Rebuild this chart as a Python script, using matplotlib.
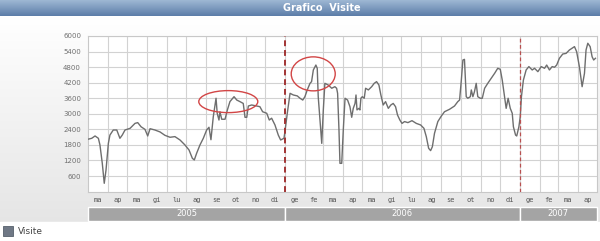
import matplotlib
matplotlib.use('Agg')
import matplotlib.pyplot as plt
from matplotlib.patches import Ellipse, Rectangle
import numpy as np
import pandas as pd

# Visite giornaliere (mesi dal 1 marzo 2005)
mesi = [0.00, 0.19, 0.36, 0.53, 0.61, 0.73, 0.83, 0.92, 1.04, 1.12,
        1.29, 1.47, 1.63, 1.75, 1.89, 2.15, 2.40, 2.54, 2.71, 2.91,
        3.05, 3.17, 3.42, 3.68, 3.93, 4.19, 4.44, 4.70, 4.95, 5.16,
        5.33, 5.43, 5.55, 5.72, 5.89, 6.06, 6.18, 6.28, 6.40, 6.54,
        6.60, 6.69, 6.74, 6.83, 7.00, 7.12, 7.25, 7.46, 7.60, 7.76,
        7.93, 8.02, 8.11, 8.19, 8.36, 8.62, 8.78, 8.92, 9.13, 9.26,
        9.38, 9.55, 9.72, 9.84, 10.01, 10.06, 10.18, 10.32, 10.49, 10.69,
        10.83, 10.97, 11.08, 11.20, 11.34, 11.42, 11.51, 11.64, 11.71, 11.76,
        11.85, 11.94, 12.02, 12.10, 12.27, 12.45, 12.61, 12.70, 12.75, 12.82,
        12.87, 12.96, 13.04, 13.13, 13.26, 13.38, 13.47, 13.55, 13.64, 13.69,
        13.74, 13.84, 13.89, 13.94, 14.01, 14.11, 14.18, 14.32, 14.49, 14.62,
        14.74, 14.86, 14.96, 15.08, 15.20, 15.34, 15.47, 15.59, 15.71, 15.81,
        15.93, 16.04, 16.17, 16.34, 16.55, 16.77, 16.99, 17.16, 17.28, 17.40,
        17.50, 17.59, 17.70, 17.87, 18.05, 18.21, 18.47, 18.72, 18.89, 18.98,
        19.07, 19.15, 19.23, 19.32, 19.40, 19.53, 19.58, 19.66, 19.74, 19.83,
        19.91, 20.04, 20.14, 20.26, 20.42, 20.60, 20.77, 20.93, 21.06, 21.16,
        21.28, 21.36, 21.46, 21.57, 21.67, 21.73, 21.84, 21.90, 22.01, 22.08,
        22.14, 22.24, 22.38, 22.52, 22.69, 22.81, 22.98, 23.15, 23.32, 23.43,
        23.57, 23.71, 23.83, 23.94, 24.08, 24.25, 24.42, 24.59, 24.85, 24.96,
        25.10, 25.24, 25.36, 25.44, 25.53, 25.65, 25.75, 25.83, 25.92]
visite = [2020, 2055, 2145, 2055, 1800, 1090, 320, 830, 1860, 2180,
          2375, 2375, 2055, 2180, 2375, 2440, 2630, 2660, 2500, 2400,
          2145, 2425, 2375, 2300, 2170, 2095, 2120, 1990, 1800, 1605,
          1285, 1220, 1480, 1800, 2055, 2375, 2480, 2000, 2890, 3600,
          3020, 2760, 3080, 2790, 2790, 3150, 3470, 3660, 3530, 3470,
          3400, 2865, 2865, 3300, 3340, 3300, 3275, 3080, 3020, 2760,
          2830, 2570, 2180, 1990, 2055, 2310, 3020, 3790, 3725, 3690,
          3600, 3530, 3660, 3920, 4175, 4240, 4690, 4880, 4755, 3660,
          2760, 1860, 3150, 4175, 4110, 3985, 4045, 3985, 3790, 2375,
          1090, 1090, 2375, 3600, 3530, 3275, 2865, 3210, 3400, 3725,
          3150, 3210, 3150, 3600, 3660, 3600, 3985, 3920, 4045, 4175,
          4240, 4110, 3725, 3340, 3470, 3210, 3340, 3400, 3275, 2955,
          2760, 2630, 2700, 2660, 2735, 2630, 2570, 2440, 2120, 1670,
          1580, 1730, 2250, 2700, 2915, 3080, 3175, 3300, 3470, 3530,
          4300, 5075, 5100, 3660, 3600, 3660, 3920, 3660, 3850, 4175,
          3660, 3600, 3600, 3985, 4175, 4370, 4560, 4755, 4715, 4300,
          3660, 3210, 3600, 3210, 3020, 2500, 2180, 2145, 2500, 2890,
          3660, 4300, 4690, 4820, 4690, 4755, 4625, 4820, 4755, 4880,
          4690, 4820, 4795, 4880, 5140, 5305, 5330, 5460, 5590, 5395,
          4820, 4045, 4560, 5460, 5720, 5590, 5200, 5075, 5140]

mesi_etichette = ['ma', 'ap', 'ma', 'gi', 'lu', 'ag', 'se', 'ot', 'no', 'di',
                  'ge', 'fe', 'ma', 'ap', 'ma', 'gi', 'lu', 'ag', 'se', 'ot', 'no', 'di',
                  'ge', 'fe', 'ma', 'ap']
anni = ['2005', '2006', '2007']
y_ticks = [600, 1200, 1800, 2400, 3000, 3600, 4200, 4800, 5400, 6000]

W, H = 600, 241
inizio = pd.Timestamp('2005-03-01')
confini = pd.date_range('2005-03-01', '2007-05-01', freq='MS')
giorni_confini = np.array([(d - inizio).days for d in confini])
totale = giorni_confini[-1]
giorni = np.array(mesi) * totale / 26.0

fig = plt.figure(figsize=(W / 100, H / 100), dpi=100)

# sfondo sfumato
bg = fig.add_axes([0, 0, 1, 1])
grad = np.linspace(1.0, 0.9, 100).reshape(-1, 1)
bg.imshow(np.dstack([grad, grad, grad]), aspect='auto',
          extent=[0, 1, 1 - 222 / H, 1 - 16 / H], transform=bg.transAxes)
bg.add_patch(Rectangle((0, 0), 1, 1 - 222 / H, color='white', transform=bg.transAxes))
bg.set_xlim(0, 1)
bg.set_ylim(0, 1)
bg.axis('off')

# barra del titolo
tb = fig.add_axes([0, 1 - 16 / H, 1, 16 / H])
c1 = np.array([0.62, 0.72, 0.83])
c2 = np.array([0.36, 0.49, 0.66])
t = np.linspace(0, 1, 50).reshape(-1, 1, 1)
tb.imshow(c1 * (1 - t) + c2 * t, aspect='auto', extent=[0, 1, 0, 1])
tb.set_xlim(0, 1)
tb.set_ylim(0, 1)
tb.axis('off')
tb.text(322 / W, 0.5, 'Grafico  Visite', color='white', fontsize=7,
        fontweight='bold', ha='center', va='center')

# grafico principale
ax = fig.add_axes([88 / W, 1 - 191.6 / H, 509 / W, 155.6 / H])
ax.set_facecolor('white')
ax.set_xlim(0, totale)
ax.set_ylim(0, 6000)
for g in giorni_confini[1:-1]:
    ax.axvline(g, color='#d2d2d2', lw=0.8, zorder=1)
for v in y_ticks:
    ax.axhline(v, color='#d2d2d2', lw=0.8, zorder=1)
for s in ax.spines.values():
    s.set_color('#c8c8c8')
    s.set_linewidth(0.8)

ax.plot(giorni, visite, color='#6e6e6e', lw=1.0, zorder=3)

# separatori anno
ax.axvline(giorni_confini[10], color='#a23434', lw=1.4, ls=(0, (3, 2)), zorder=4)
ax.axvline(giorni_confini[22], color='#b85050', lw=0.9, ls=(0, (3, 2)), zorder=4)

# cerchi rossi
px_giorno = 509 / totale
px_val = 155.6 / 6000
ax.add_patch(Ellipse((218, 3470), 59 / px_giorno, 22 / px_val,
                     fill=False, ec='#d24646', lw=1.0, zorder=5))
ax.add_patch(Ellipse((350, 4540), 44 / px_giorno, 34 / px_val,
                     fill=False, ec='#d24646', lw=1.0, zorder=5))

ax.set_yticks(y_ticks)
ax.set_yticklabels([str(v) for v in y_ticks], fontsize=5, color='#707070')
ax.tick_params(axis='y', length=0, pad=5)
ax.set_xticks([])

# etichette mesi
trans = ax.get_xaxis_transform()
for i, lab in enumerate(mesi_etichette):
    mid = (giorni_confini[i] + giorni_confini[i + 1]) / 2
    ax.text(mid, -8.5 / 155.6, lab, transform=trans, ha='center', va='center',
            fontsize=5, color='#555555', family='DejaVu Sans Mono')

# fascia anni
y0 = -(221 - 191.6) / 155.6
hb = 14 / 155.6
limiti = [0, 10, 22, 26]
for k, anno in enumerate(anni):
    a, b = giorni_confini[limiti[k]], giorni_confini[limiti[k + 1]]
    ax.add_patch(Rectangle((a, y0), b - a, hb, transform=trans, clip_on=False,
                           fc='#a4a4a4', ec='white', lw=1.0))
    ax.text((a + b) / 2, y0 + hb / 2, anno, transform=trans, ha='center',
            va='center', fontsize=6, color='white', clip_on=False)

# legenda
bg.add_patch(Rectangle((3 / W, 1 - 236 / H), 10 / W, 10 / H, fc='#6f7885',
                       ec='#56606c', lw=0.6, transform=bg.transAxes))
bg.text(18 / W, 1 - 231.5 / H, 'Visite', fontsize=6.5, color='#444444',
        va='center', ha='left', transform=bg.transAxes)

fig.savefig('out.png', dpi=100)
